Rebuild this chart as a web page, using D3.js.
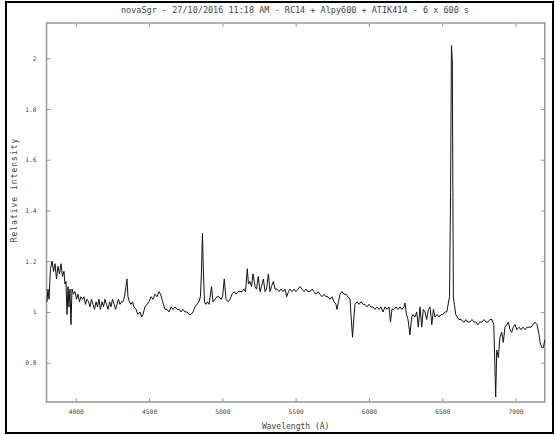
<!DOCTYPE html>
<html>
<head>
<meta charset="utf-8">
<script src="https://cdn.jsdelivr.net/npm/d3@7"></script>
<style>
  html, body { margin: 0; padding: 0; background: #fff; }
  svg { display: block; }
  text { font-family: "DejaVu Sans Mono", monospace; fill: #444; }
</style>
</head>
<body>
<svg id="chart" width="556" height="435"></svg>
<script>
const titleText = "novaSgr - 27/10/2016 11:18 AM - RC14 + Alpy600 + ATIK414 - 6 x 600 s";
const xLabel = "Wavelength (A)";
const yLabel = "Relative intensity";
const xTicks = [4000, 4500, 5000, 5500, 6000, 6500, 7000];
const yTicks = [0.8, 1, 1.2, 1.4, 1.6, 1.8, 2];
const yTickLabels = ["0.8", "1", "1.2", "1.4", "1.6", "1.8", "2"];

const wavelength = [
  3803, 3810, 3817, 3827, 3838, 3848, 3858, 3868, 3878, 3889, 3899, 3909, 3919, 3926, 3933, 3940, 3947, 3953, 3960, 3967,
  3974, 3984, 3994, 4005, 4015, 4025, 4035, 4046, 4056, 4066, 4076, 4087, 4097, 4107, 4117, 4128, 4138, 4148, 4158, 4168,
  4179, 4189, 4199, 4209, 4220, 4230, 4240, 4250, 4261, 4271, 4281, 4291, 4301, 4312, 4322, 4332, 4342, 4349, 4356, 4366,
  4377, 4387, 4397, 4411, 4424, 4438, 4450, 4458, 4472, 4486, 4499, 4513, 4527, 4540, 4554, 4568, 4578, 4588, 4598, 4609,
  4622, 4636, 4650, 4663, 4677, 4691, 4704, 4718, 4731, 4745, 4759, 4772, 4786, 4800, 4813, 4827, 4840, 4850, 4857, 4864,
  4871, 4878, 4888, 4898, 4909, 4926, 4936, 4950, 4963, 4977, 4991, 5001, 5013, 5025, 5039, 5052, 5066, 5080, 5093, 5107,
  5120, 5134, 5147, 5158, 5170, 5178, 5188, 5199, 5209, 5223, 5233, 5245, 5257, 5267, 5280, 5291, 5301, 5314, 5325, 5335,
  5348, 5359, 5373, 5387, 5400, 5414, 5427, 5439, 5451, 5461, 5475, 5489, 5502, 5516, 5530, 5543, 5557, 5571, 5584, 5598,
  5612, 5625, 5639, 5653, 5666, 5680, 5694, 5707, 5721, 5734, 5748, 5762, 5775, 5782, 5792, 5803, 5816, 5830, 5844, 5857,
  5871, 5881, 5888, 5895, 5905, 5919, 5932, 5946, 5960, 5973, 5987, 6000, 6014, 6028, 6041, 6055, 6069, 6082, 6096, 6110,
  6123, 6137, 6147, 6157, 6171, 6185, 6198, 6212, 6225, 6239, 6246, 6256, 6267, 6280, 6292, 6301, 6314, 6326, 6337, 6349,
  6360, 6371, 6383, 6394, 6406, 6417, 6429, 6440, 6451, 6465, 6478, 6492, 6506, 6519, 6531, 6542, 6550, 6557, 6563, 6569,
  6576, 6583, 6592, 6603, 6614, 6628, 6648, 6662, 6676, 6689, 6703, 6717, 6730, 6744, 6758, 6771, 6785, 6798, 6812, 6826,
  6839, 6852, 6865, 6872, 6883, 6894, 6906, 6917, 6928, 6940, 6951, 6963, 6974, 6985, 6997, 7010, 7024, 7038, 7051, 7065,
  7079, 7092, 7106, 7120, 7133, 7147, 7161, 7168, 7179, 7190, 7200
];
const intensity = [
  1.04, 1.09, 1.05, 1.17, 1.20, 1.16, 1.19, 1.13, 1.18, 1.15, 1.19, 1.14, 1.16, 1.11, 1.12, 0.99, 1.10, 1.02, 1.09, 0.95,
  1.09, 1.07, 1.08, 1.05, 1.07, 1.04, 1.06, 1.05, 1.06, 1.03, 1.05, 1.04, 1.02, 1.05, 1.03, 1.01, 1.04, 1.02, 1.05, 1.01,
  1.04, 1.02, 1.05, 1.03, 1.01, 1.04, 1.02, 1.05, 1.03, 1.01, 1.03, 1.05, 1.03, 1.04, 1.04, 1.06, 1.10, 1.13, 1.06, 1.04,
  1.03, 1.04, 1.02, 1.01, 0.99, 1.00, 0.98, 0.99, 1.02, 1.03, 1.04, 1.06, 1.05, 1.07, 1.06, 1.08, 1.07, 1.05, 1.03, 1.01,
  1.01, 1.00, 1.02, 1.01, 1.02, 1.01, 1.01, 1.00, 1.01, 1.00, 1.00, 0.99, 0.99, 1.00, 1.02, 1.03, 1.04, 1.06, 1.15, 1.31,
  1.15, 1.04, 1.03, 1.04, 1.03, 1.10, 1.04, 1.05, 1.06, 1.06, 1.05, 1.06, 1.13, 1.05, 1.04, 1.05, 1.07, 1.08, 1.07, 1.08,
  1.08, 1.08, 1.09, 1.08, 1.17, 1.11, 1.12, 1.10, 1.15, 1.10, 1.09, 1.14, 1.08, 1.10, 1.13, 1.08, 1.09, 1.15, 1.08, 1.10,
  1.12, 1.09, 1.09, 1.08, 1.09, 1.08, 1.09, 1.06, 1.08, 1.09, 1.08, 1.09, 1.08, 1.09, 1.10, 1.09, 1.08, 1.09, 1.08, 1.08,
  1.09, 1.08, 1.07, 1.08, 1.07, 1.06, 1.07, 1.06, 1.06, 1.05, 1.06, 1.04, 1.03, 1.01, 1.04, 1.07, 1.08, 1.07, 1.07, 1.06,
  1.05, 0.96, 0.90, 0.96, 1.03, 1.04, 1.03, 1.04, 1.03, 1.03, 1.02, 1.03, 1.02, 1.02, 1.01, 1.02, 1.01, 1.02, 1.00, 1.02,
  1.01, 1.02, 0.96, 1.01, 1.01, 1.02, 1.01, 1.02, 1.01, 1.02, 1.035, 0.99, 0.97, 0.91, 0.98, 0.99, 0.98, 1.00, 0.94, 1.02,
  0.94, 1.01, 1.00, 0.97, 1.01, 1.02, 0.95, 1.01, 0.98, 0.99, 0.98, 0.99, 0.99, 1.00, 1.00, 1.035, 1.06, 1.47, 2.05, 1.99,
  1.06, 1.03, 0.99, 0.98, 0.97, 0.97, 0.96, 0.97, 0.96, 0.96, 0.97, 0.96, 0.96, 0.95, 0.96, 0.96, 0.97, 0.96, 0.96, 0.97,
  0.97, 0.95, 0.665, 0.85, 0.82, 0.90, 0.92, 0.88, 0.94, 0.95, 0.96, 0.93, 0.92, 0.94, 0.95, 0.93, 0.94, 0.93, 0.94, 0.93,
  0.94, 0.94, 0.94, 0.95, 0.96, 0.95, 0.91, 0.88, 0.86, 0.86, 0.89
];

const svg = d3.select("#chart");
const plot = { left: 46.5, right: 544.8, top: 23, bottom: 402 };

// outer black frame
svg.append("rect")
  .attr("x", 6).attr("y", 2).attr("width", 547).attr("height", 431)
  .attr("fill", "none").attr("stroke", "#000").attr("stroke-width", 2);

const x = d3.scaleLinear().domain([3800, 7200]).range([plot.left, plot.right]);
const y = d3.scaleLinear().domain([0.645, 2.139]).range([plot.bottom, plot.top]);

const axisColor = "#999";
function styleAxis(g, labels) {
  g.select(".domain").remove();
  g.selectAll(".tick line").attr("stroke", axisColor).attr("stroke-width", 1);
  g.selectAll(".tick text").attr("fill", "#555").style("font-size", "6.3px")
    .style("font-family", "'DejaVu Sans Mono', monospace");
  if (!labels) g.selectAll(".tick text").remove();
}

svg.append("g").attr("transform", `translate(0,${plot.bottom})`)
  .call(d3.axisBottom(x).tickValues(xTicks).tickSizeInner(-4).tickSizeOuter(0).tickPadding(8).tickFormat(d3.format("d")))
  .call(g => styleAxis(g, true));
svg.append("g").attr("transform", `translate(0,${plot.top})`)
  .call(d3.axisTop(x).tickValues(xTicks).tickSizeInner(-4).tickSizeOuter(0))
  .call(g => styleAxis(g, false));
svg.append("g").attr("transform", `translate(${plot.left},0)`)
  .call(d3.axisLeft(y).tickValues(yTicks).tickSizeInner(-4).tickSizeOuter(0).tickPadding(10)
    .tickFormat((d, i) => yTickLabels[i]))
  .call(g => styleAxis(g, true));
svg.append("g").attr("transform", `translate(${plot.right},0)`)
  .call(d3.axisRight(y).tickValues(yTicks).tickSizeInner(-4).tickSizeOuter(0))
  .call(g => styleAxis(g, false));

// plot frame
svg.append("rect")
  .attr("x", plot.left).attr("y", plot.top)
  .attr("width", plot.right - plot.left).attr("height", plot.bottom - plot.top)
  .attr("fill", "none").attr("stroke", axisColor).attr("stroke-width", 1.5);

const pts = wavelength.map((w, i) => [w, intensity[i]]);
const line = d3.line().x(d => x(d[0])).y(d => y(d[1]));
svg.append("path").datum(pts)
  .attr("d", line)
  .attr("fill", "none").attr("stroke", "#111").attr("stroke-width", 1)
  .attr("stroke-linejoin", "miter");

svg.append("text").attr("x", 295).attr("y", 13).attr("text-anchor", "middle")
  .style("font-size", "8.5px").text(titleText);
svg.append("text").attr("x", (plot.left + plot.right) / 2).attr("y", 429).attr("text-anchor", "middle")
  .style("font-size", "8px").text(xLabel);
svg.append("text").attr("transform", `translate(17,${190}) rotate(-90)`).attr("text-anchor", "middle")
  .style("font-size", "8px").style("letter-spacing", "1px").text(yLabel);
</script>
</body>
</html>
